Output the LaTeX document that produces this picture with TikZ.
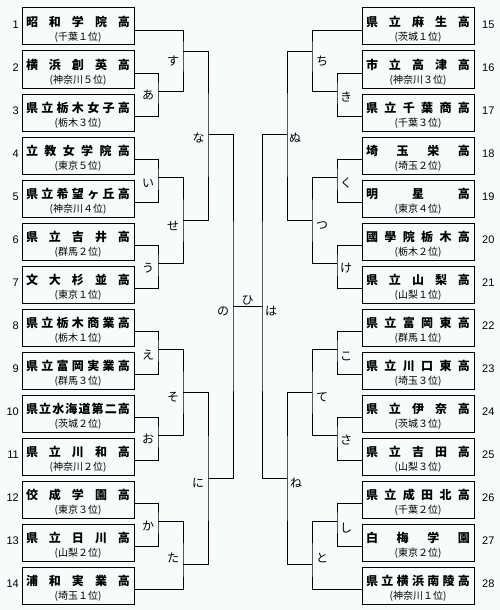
\documentclass[tikz,border=0pt]{standalone}
\usepackage{fontspec}
\newfontfamily\jp{Noto Sans CJK JP}
\newfontfamily\numfont{Liberation Sans}
\definecolor{bg}{RGB}{246,253,249}
\def\spreadloop#1#2\endspread{#1\ifx\relax#2\relax\else\hfill\spreadloop#2\endspread\fi}
\newcommand\spreadname[1]{\makebox[104pt][s]{\spreadloop#1\endspread}}
\tikzset{
  team/.style={draw=black, line width=1pt, fill=bg, minimum width=112pt, minimum height=37pt, inner sep=0pt, outer sep=0pt, anchor=north west},
  tname/.style={font=\jp\bfseries\fontsize{12}{12}\selectfont, inner sep=0pt},
  tsub/.style={font=\jp\fontsize{10}{10}\selectfont, inner sep=0pt},
  seed/.style={font=\numfont\fontsize{11}{11}\selectfont, inner sep=0pt},
  mlabel/.style={font=\jp\fontsize{12}{12}\selectfont, inner sep=0pt},
  bline/.style={line width=1pt, draw=black}
}
\newcommand\leftteam[4]{%
  \node[team] (L#1) at (22,#2) {};
  \node[tname] (L#1n) at ([yshift=-13.5pt]L#1.north) {\spreadname{#3}};
  \node[tsub] (L#1s) at ([yshift=-29.5pt]L#1.north) {#4};
  \node[seed, anchor=east] (L#1k) at ([xshift=-3pt,yshift=-16.5pt]L#1.north west) {#1};
  \coordinate (pL#1) at ([yshift=-22.7pt]L#1.north east);
}
\newcommand\rightteam[4]{%
  \node[team] (R#1) at (362,#2) {};
  \node[tname] (R#1n) at ([yshift=-13.5pt]R#1.north) {\spreadname{#3}};
  \node[tsub] (R#1s) at ([yshift=-29.5pt]R#1.north) {#4};
  \node[seed, anchor=west] (R#1k) at ([xshift=8pt,yshift=-16.5pt]R#1.north east) {#1};
  \coordinate (pR#1) at ([yshift=-22.7pt]R#1.north west);
}
\begin{document}
\begin{tikzpicture}[x=1pt,y=-1pt]
\fill[bg] (0,0) rectangle (500,610);
\useasboundingbox (0,0) rectangle (500,610);
% left teams
\leftteam{1}{8}{昭和学院高}{(千葉１位)}
\leftteam{2}{51}{横浜創英高}{(神奈川５位)}
\leftteam{3}{94}{県立栃木女子高}{(栃木３位)}
\leftteam{4}{137}{立教女学院高}{(東京５位)}
\leftteam{5}{180}{県立希望ヶ丘高}{(神奈川４位)}
\leftteam{6}{223}{県立吉井高}{(群馬２位)}
\leftteam{7}{266}{文大杉並高}{(東京１位)}
\leftteam{8}{309}{県立栃木商業高}{(栃木１位)}
\leftteam{9}{352}{県立富岡実業高}{(群馬３位)}
\leftteam{10}{395}{県立水海道第二高}{(茨城２位)}
\leftteam{11}{438}{県立川和高}{(神奈川２位)}
\leftteam{12}{481}{佼成学園高}{(東京３位)}
\leftteam{13}{524}{県立日川高}{(山梨２位)}
\leftteam{14}{567}{浦和実業高}{(埼玉１位)}
% right teams
\rightteam{15}{8}{県立麻生高}{(茨城１位)}
\rightteam{16}{51}{市立高津高}{(神奈川３位)}
\rightteam{17}{94}{県立千葉商高}{(千葉３位)}
\rightteam{18}{137}{埼玉栄高}{(埼玉２位)}
\rightteam{19}{180}{明星高}{(東京４位)}
\rightteam{20}{223}{國學院栃木高}{(栃木２位)}
\rightteam{21}{266}{県立山梨高}{(山梨１位)}
\rightteam{22}{309}{県立富岡東高}{(群馬１位)}
\rightteam{23}{352}{県立川口東高}{(埼玉３位)}
\rightteam{24}{395}{県立伊奈高}{(茨城３位)}
\rightteam{25}{438}{県立吉田高}{(山梨３位)}
\rightteam{26}{481}{県立成田北高}{(千葉２位)}
\rightteam{27}{524}{白梅学園}{(東京２位)}
\rightteam{28}{567}{県立横浜南陵高}{(神奈川１位)}
% match points left
\coordinate (mA) at (158,91.3);
\coordinate (mI) at (158,177.7);
\coordinate (mU) at (158,263.3);
\coordinate (mE) at (158,349.3);
\coordinate (mO) at (158,435);
\coordinate (mKa) at (158,521);
\coordinate (mSu) at (183,52);
\coordinate (mSe) at (183,220.7);
\coordinate (mSo) at (183,392.7);
\coordinate (mTa) at (183,564.3);
\coordinate (mNa) at (208,134);
\coordinate (mNi) at (208,478.3);
\coordinate (mNo) at (233,306);
% match points right
\coordinate (mKi) at (337,91.3);
\coordinate (mKu) at (337,177.7);
\coordinate (mKe) at (337,263.3);
\coordinate (mKo) at (337,349.3);
\coordinate (mSa) at (337,435);
\coordinate (mShi) at (337,521);
\coordinate (mChi) at (312,52);
\coordinate (mTsu) at (312,220.7);
\coordinate (mTe) at (312,392.7);
\coordinate (mTo) at (312,564.3);
\coordinate (mNu) at (287,134);
\coordinate (mNe) at (287,478.3);
\coordinate (mHa) at (262,306);
% bracket lines left
\draw[bline] (pL2) -| (mA) |- (pL3);
\draw[bline] (pL4) -| (mI) |- (pL5);
\draw[bline] (pL6) -| (mU) |- (pL7);
\draw[bline] (pL8) -| (mE) |- (pL9);
\draw[bline] (pL10) -| (mO) |- (pL11);
\draw[bline] (pL12) -| (mKa) |- (pL13);
\draw[bline] (pL1) -| (mSu) |- (mA);
\draw[bline] (mI) -| (mSe) |- (mU);
\draw[bline] (mE) -| (mSo) |- (mO);
\draw[bline] (mKa) -| (mTa) |- (pL14);
\draw[bline] (mSu) -| (mNa) |- (mSe);
\draw[bline] (mSo) -| (mNi) |- (mTa);
\draw[bline] (mNa) -| (mNo) |- (mNi);
\draw[bline] (mNo) -- (mHa);
% bracket lines right
\draw[bline] (pR16) -| (mKi) |- (pR17);
\draw[bline] (pR18) -| (mKu) |- (pR19);
\draw[bline] (pR20) -| (mKe) |- (pR21);
\draw[bline] (pR22) -| (mKo) |- (pR23);
\draw[bline] (pR24) -| (mSa) |- (pR25);
\draw[bline] (pR26) -| (mShi) |- (pR27);
\draw[bline] (pR15) -| (mChi) |- (mKi);
\draw[bline] (mKu) -| (mTsu) |- (mKe);
\draw[bline] (mKo) -| (mTe) |- (mSa);
\draw[bline] (mShi) -| (mTo) |- (pR28);
\draw[bline] (mChi) -| (mNu) |- (mTsu);
\draw[bline] (mTe) -| (mNe) |- (mTo);
\draw[bline] (mNu) -| (mHa) |- (mNe);
% match labels left
\node[mlabel] (lA) at (148,95) {あ};
\node[mlabel] (lI) at (148,183) {い};
\node[mlabel] (lU) at (148,268) {う};
\node[mlabel] (lE) at (148,355) {え};
\node[mlabel] (lO) at (148,439) {お};
\node[mlabel] (lKa) at (148,526) {か};
\node[mlabel] (lSu) at (173,61) {す};
\node[mlabel] (lSe) at (173,226) {せ};
\node[mlabel] (lSo) at (173,397) {そ};
\node[mlabel] (lTa) at (173,558) {た};
\node[mlabel] (lNa) at (198.5,138) {な};
\node[mlabel] (lNi) at (198,483) {に};
\node[mlabel] (lNo) at (223,311) {の};
\node[mlabel] (lHi) at (247.5,300) {ひ};
\node[mlabel] (lHa) at (271,311) {は};
% match labels right
\node[mlabel] (lKi) at (346,97) {き};
\node[mlabel] (lKu) at (346,183) {く};
\node[mlabel] (lKe) at (346,268) {け};
\node[mlabel] (lKo) at (346,356) {こ};
\node[mlabel] (lSa) at (346,440) {さ};
\node[mlabel] (lShi) at (346,528) {し};
\node[mlabel] (lChi) at (322,61) {ち};
\node[mlabel] (lTsu) at (322,226) {つ};
\node[mlabel] (lTe) at (322,397) {て};
\node[mlabel] (lTo) at (322,558) {と};
\node[mlabel] (lNu) at (295,138) {ぬ};
\node[mlabel] (lNe) at (296,483) {ね};
\end{tikzpicture}
\end{document}
